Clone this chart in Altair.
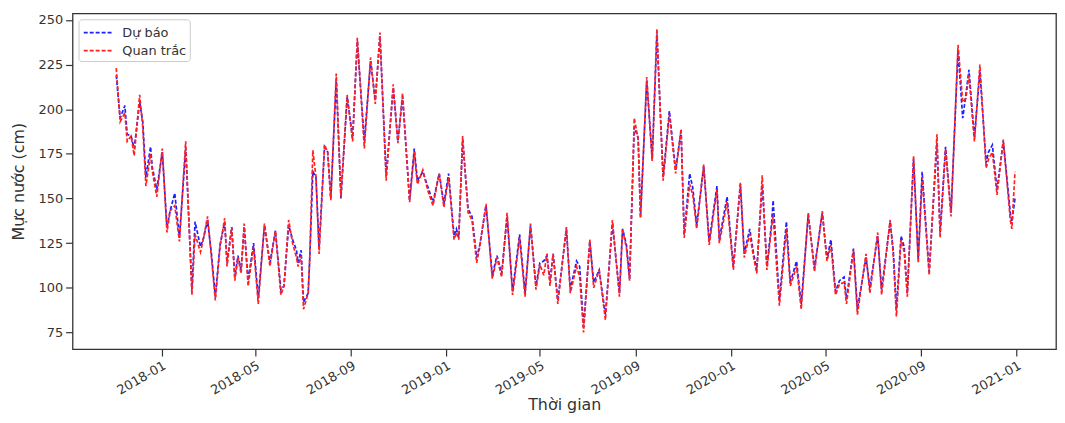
import altair as alt
import pandas as pd

dates = [
    "2017-11-04", "2017-11-09", "2017-11-15", "2017-11-18", "2017-11-23", "2017-11-27",
    "2017-12-04", "2017-12-08", "2017-12-12", "2017-12-18", "2017-12-20", "2017-12-26",
    "2018-01-02", "2018-01-08", "2018-01-12", "2018-01-18", "2018-01-24", "2018-02-01",
    "2018-02-09", "2018-02-13", "2018-02-20", "2018-02-24", "2018-03-01", "2018-03-06",
    "2018-03-11", "2018-03-17", "2018-03-23", "2018-03-26", "2018-04-01", "2018-04-05",
    "2018-04-09", "2018-04-13", "2018-04-17", "2018-04-22", "2018-04-29", "2018-05-05",
    "2018-05-13", "2018-05-20", "2018-05-27", "2018-06-03", "2018-06-07", "2018-06-13",
    "2018-06-18", "2018-06-23", "2018-06-25", "2018-06-29", "2018-07-02", "2018-07-08",
    "2018-07-10", "2018-07-14", "2018-07-18", "2018-07-22", "2018-07-29", "2018-08-02",
    "2018-08-06", "2018-08-13", "2018-08-19", "2018-08-27", "2018-09-03", "2018-09-09",
    "2018-09-18", "2018-09-26", "2018-10-02", "2018-10-08", "2018-10-16", "2018-10-25",
    "2018-10-31", "2018-11-06", "2018-11-15", "2018-11-21", "2018-11-25", "2018-12-02",
    "2018-12-08", "2018-12-15", "2018-12-23", "2018-12-29", "2019-01-04", "2019-01-11",
    "2019-01-14", "2019-01-17", "2019-01-22", "2019-01-29", "2019-02-03", "2019-02-09",
    "2019-02-13", "2019-02-21", "2019-03-01", "2019-03-07", "2019-03-13", "2019-03-20",
    "2019-03-27", "2019-04-05", "2019-04-12", "2019-04-19", "2019-04-26", "2019-05-01",
    "2019-05-06", "2019-05-10", "2019-05-14", "2019-05-18", "2019-05-24", "2019-06-04",
    "2019-06-09", "2019-06-17", "2019-06-21", "2019-06-26", "2019-07-04", "2019-07-09",
    "2019-07-16", "2019-07-24", "2019-08-02", "2019-08-11", "2019-08-15", "2019-08-20",
    "2019-08-24", "2019-08-30", "2019-09-04", "2019-09-07", "2019-09-15", "2019-09-22",
    "2019-09-28", "2019-10-06", "2019-10-14", "2019-10-22", "2019-10-29", "2019-11-02",
    "2019-11-09", "2019-11-13", "2019-11-18", "2019-11-27", "2019-12-04", "2019-12-14",
    "2019-12-17", "2019-12-27", "2020-01-04", "2020-01-13", "2020-01-18", "2020-01-25",
    "2020-01-30", "2020-02-03", "2020-02-10", "2020-02-16", "2020-02-22", "2020-02-24",
    "2020-03-03", "2020-03-12", "2020-03-17", "2020-03-25", "2020-03-31", "2020-04-09",
    "2020-04-17", "2020-04-27", "2020-05-03", "2020-05-08", "2020-05-14", "2020-05-19",
    "2020-05-25", "2020-05-28", "2020-06-06", "2020-06-11", "2020-06-22", "2020-06-27",
    "2020-07-07", "2020-07-12", "2020-07-23", "2020-07-27", "2020-07-31", "2020-08-06",
    "2020-08-10", "2020-08-14", "2020-08-22", "2020-08-28", "2020-09-02", "2020-09-11",
    "2020-09-21", "2020-09-25", "2020-10-02", "2020-10-09", "2020-10-18", "2020-10-24",
    "2020-10-28", "2020-11-01", "2020-11-08", "2020-11-15", "2020-11-23", "2020-11-26",
    "2020-12-01", "2020-12-07", "2020-12-15", "2020-12-24", "2020-12-26", "2020-12-30",
]

quan_trac = [
    223, 193, 198, 182, 185, 174, 208, 190, 157, 175, 166, 151,
    178, 131, 143, 146, 126, 182, 96, 130, 120, 128, 140, 117,
    93, 123, 139, 112, 134, 104, 117, 108, 136, 101, 123, 91,
    136, 112, 132, 96, 101, 138, 125, 117, 112, 118, 88, 97,
    117, 177, 162, 119, 180, 176, 149, 220, 151, 208, 182, 240,
    178, 229, 203, 243, 160, 214, 181, 209, 148, 176, 158, 166,
    155, 146, 164, 145, 162, 127, 131, 127, 185, 142, 138, 114,
    123, 147, 105, 117, 106, 142, 96, 128, 95, 136, 99, 113,
    107, 119, 101, 119, 91, 134, 97, 112, 106, 75, 127, 100,
    110, 82, 138, 95, 133, 122, 104, 195, 183, 139, 218, 171,
    245, 160, 197, 164, 189, 128, 158, 152, 133, 169, 124, 155,
    125, 148, 110, 159, 117, 130, 117, 108, 163, 110, 134, 140,
    90, 133, 101, 112, 88, 142, 109, 143, 115, 124, 96, 102,
    103, 91, 121, 85, 119, 97, 131, 96, 138, 118, 84, 127,
    120, 95, 174, 114, 162, 107, 186, 128, 178, 140, 236, 204,
    206, 219, 182, 225, 167, 172, 176, 152, 183, 138, 133, 165,
]

du_bao = [
    219, 195, 202, 186, 185, 178, 204, 193, 162, 179, 168, 155,
    176, 134, 143, 153, 128, 178, 99, 137, 123, 128, 138, 119,
    95, 124, 137, 114, 134, 106, 118, 110, 134, 104, 125, 94,
    135, 114, 132, 99, 101, 135, 127, 121, 114, 121, 92, 97,
    116, 165, 162, 122, 179, 176, 150, 216, 150, 207, 184, 238,
    182, 227, 205, 241, 163, 212, 182, 207, 149, 178, 160, 165,
    157, 148, 164, 147, 164, 129, 133, 128, 183, 144, 140, 117,
    124, 146, 107, 118, 108, 140, 98, 130, 97, 135, 101, 114,
    115, 118, 104, 119, 93, 133, 99, 115, 112, 78, 126, 103,
    110, 85, 136, 97, 133, 124, 105, 190, 184, 140, 216, 172,
    242, 162, 199, 166, 188, 130, 164, 156, 135, 168, 126, 157,
    127, 151, 112, 158, 119, 133, 119, 110, 158, 112, 136, 149,
    93, 137, 103, 115, 91, 141, 111, 142, 116, 127, 98, 104,
    106, 94, 122, 88, 117, 100, 129, 99, 137, 121, 88, 129,
    123, 97, 172, 116, 165, 109, 181, 131, 179, 142, 233, 195,
    208, 222, 184, 221, 170, 176, 180, 155, 182, 142, 137, 150,
]

series_names = ["Dự báo", "Quan trắc"]
series_colors = ["#1f1fff", "#ff2020"]
y_ticks = [75, 100, 125, 150, 175, 200, 225, 250]
x_ticks = [(2018, 1), (2018, 5), (2018, 9), (2019, 1), (2019, 5), (2019, 9),
           (2020, 1), (2020, 5), (2020, 9), (2021, 1)]

n = len(dates)
df = pd.DataFrame({
    "date": dates + dates,
    "value": du_bao + quan_trac,
    "series": [series_names[0]] * n + [series_names[1]] * n,
})

color = alt.Color(
    "series:N",
    scale=alt.Scale(domain=series_names, range=series_colors),
    legend=alt.Legend(
        title=None, orient="none", legendX=6, legendY=6,
        symbolType="M-1.5,0H1.5", symbolSize=361, symbolStrokeWidth=1.7,
        symbolDash=[4, 2], symbolOffset=6, labelFontSize=13, labelColor="#333",
        labelFont="DejaVu Sans", fillColor="white", strokeColor="#cccccc",
        padding=3, rowPadding=0, cornerRadius=3, labelOffset=14,
    ),
)

x = alt.X(
    "date:T",
    scale=alt.Scale(
        type="utc",
        domain=[alt.DateTime(year=2017, month=9, date=9, utc=True),
                alt.DateTime(year=2021, month=2, date=20, hours=14, utc=True)],
    ),
    axis=alt.Axis(
        values=[alt.DateTime(year=yy, month=mm, date=1, utc=True) for yy, mm in x_ticks],
        format="%Y-%m", labelAngle=330, labelAlign="right", labelBaseline="top",
        labelPadding=3, tickSize=7, grid=False, domain=False,
        title="Thời gian", titleFontSize=16, titleBaseline="alphabetic", titleY=61,
    ),
)

y = alt.Y(
    "value:Q",
    scale=alt.Scale(domain=[65.7, 253.7], nice=False, zero=False),
    axis=alt.Axis(
        values=y_ticks, tickSize=7, labelPadding=3, grid=False, domain=False,
        title="Mực nước (cm)", titleFontSize=16, titlePadding=12,
    ),
)

base = alt.Chart(df).mark_line(strokeDash=[4, 2], strokeWidth=1.7, clip=True)

fc_layer = base.transform_filter(alt.datum.series == series_names[0]).encode(
    x=x, y=y, color=color)
obs_layer = base.transform_filter(alt.datum.series == series_names[1]).encode(
    x=x, y=y, color=color)

chart = alt.layer(fc_layer, obs_layer).properties(
    width=990, height=338,
    autosize=alt.AutoSizeParams(type="none"),
    padding={"left": 65, "top": 4, "right": 1, "bottom": 65},
).configure_view(
    stroke="#333333", strokeWidth=1.3,
).configure_axis(
    labelFont="DejaVu Sans", titleFont="DejaVu Sans", labelFontSize=13,
    labelColor="#333333", titleColor="#333333", tickColor="#333333",
    titleFontWeight="normal", tickWidth=1.2,
)

chart.save("out.html", embed_options={"renderer": "svg", "actions": False})
